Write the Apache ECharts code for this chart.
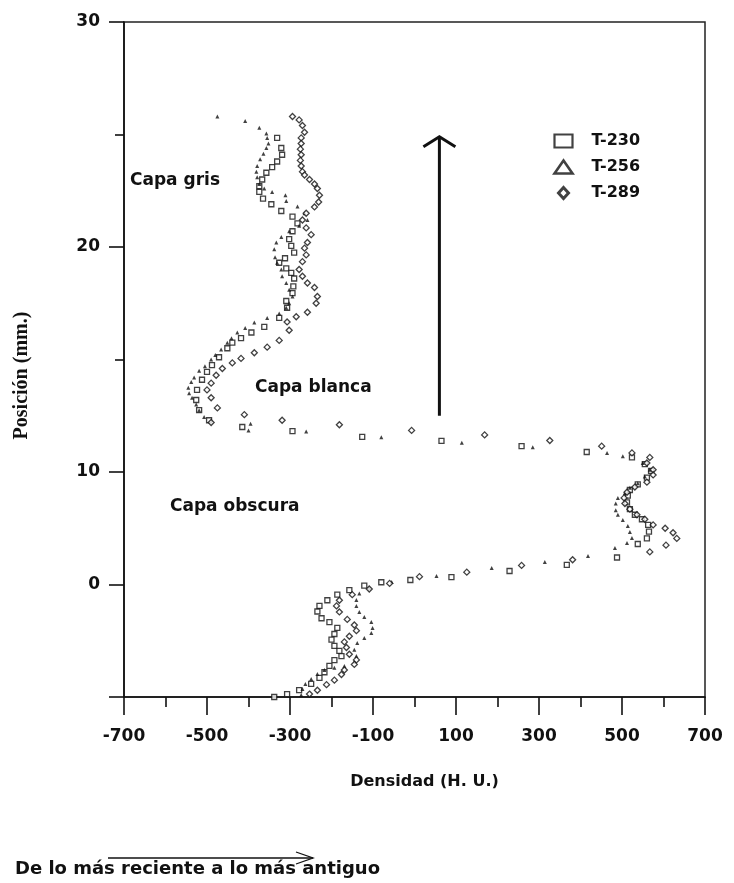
<!DOCTYPE html>
<html>
<head>
<meta charset="utf-8">
<script src="https://cdn.jsdelivr.net/npm/echarts@6/dist/echarts.min.js"></script>
<style>
  html, body { margin: 0; padding: 0; background: #fff; }
  #chart { width: 734px; height: 883px; }
</style>
</head>
<body>
<div id="chart"></div>
<script>
// Density (H.U.) vs position (mm)
const seriesNames = ['T-230', 'T-256', 'T-289'];

const t230 = [
  [-331, 24.85], [-321, 24.4], [-319, 24.1], [-331, 23.8], [-343, 23.55], [-357, 23.3], [-367, 23.0],
  [-374, 22.7], [-374, 22.45], [-365, 22.15], [-345, 21.9], [-321, 21.6], [-294, 21.35], [-282, 21.05],
  [-294, 20.7], [-302, 20.35], [-297, 20.05], [-290, 19.75], [-312, 19.5], [-326, 19.3], [-309, 19.05],
  [-297, 18.85], [-290, 18.6], [-292, 18.25], [-294, 17.95], [-309, 17.6], [-307, 17.3], [-326, 16.85],
  [-362, 16.45], [-393, 16.2], [-418, 15.95], [-439, 15.75], [-451, 15.5], [-471, 15.1], [-488, 14.75],
  [-500, 14.45], [-512, 14.1], [-524, 13.65], [-526, 13.2], [-519, 12.75], [-495, 12.3], [-415, 12.0],
  [-294, 11.82], [-126, 11.56], [65, 11.38], [258, 11.15], [415, 10.89], [524, 10.65], [555, 10.35],
  [570, 10.05], [560, 9.75], [538, 9.45], [519, 9.2], [514, 8.95], [512, 8.65], [519, 8.35], [531, 8.1],
  [548, 7.9], [563, 7.65], [565, 7.35], [560, 7.05], [538, 6.8], [488, 6.2], [367, 5.87], [229, 5.6],
  [89, 5.33], [-10, 5.2], [-80, 5.1], [-121, 4.95], [-157, 4.75], [-186, 4.55], [-210, 4.3], [-229, 4.05],
  [-234, 3.8], [-224, 3.5], [-205, 3.33], [-186, 3.07], [-193, 2.8], [-200, 2.55], [-193, 2.27],
  [-181, 2.05], [-176, 1.82], [-193, 1.64], [-205, 1.38], [-217, 1.1], [-229, 0.85], [-249, 0.58],
  [-278, 0.31], [-307, 0.13], [-338, 0.0]
];

const t256 = [
  [-475, 25.8], [-408, 25.6], [-374, 25.3], [-357, 25.05], [-355, 24.85], [-352, 24.6], [-357, 24.4],
  [-364, 24.15], [-372, 23.9], [-379, 23.6], [-381, 23.35], [-379, 23.1], [-374, 22.8], [-362, 22.6],
  [-343, 22.45], [-311, 22.3], [-309, 22.05], [-282, 21.8], [-265, 21.5], [-258, 21.2], [-278, 20.95],
  [-302, 20.7], [-321, 20.45], [-333, 20.2], [-338, 19.9], [-336, 19.55], [-331, 19.3], [-321, 19.0],
  [-319, 18.7], [-309, 18.4], [-302, 18.1], [-294, 17.8], [-302, 17.5], [-309, 17.3], [-326, 17.05],
  [-355, 16.85], [-386, 16.65], [-408, 16.4], [-427, 16.2], [-441, 15.95], [-451, 15.75], [-466, 15.45],
  [-480, 15.2], [-490, 15.0], [-505, 14.7], [-519, 14.5], [-531, 14.2], [-538, 14.0], [-545, 13.75],
  [-543, 13.5], [-536, 13.3], [-526, 13.0], [-519, 12.75], [-507, 12.45], [-395, 12.15], [-400, 11.85],
  [-261, 11.8], [-80, 11.55], [114, 11.3], [285, 11.1], [464, 10.85], [502, 10.7], [550, 10.4],
  [567, 10.1], [555, 9.8], [538, 9.5], [519, 9.3], [507, 9.07], [490, 8.84], [485, 8.6], [485, 8.3],
  [490, 8.1], [502, 7.87], [514, 7.6], [519, 7.33], [524, 7.07], [512, 6.84], [483, 6.62], [418, 6.27],
  [314, 6.0], [186, 5.73], [53, 5.38], [-55, 5.11], [-109, 4.85], [-133, 4.6], [-140, 4.31], [-140, 4.05],
  [-133, 3.78], [-121, 3.56], [-104, 3.33], [-101, 3.07], [-104, 2.84], [-121, 2.62], [-138, 2.4],
  [-145, 2.1], [-140, 1.82], [-145, 1.56], [-169, 1.38], [-193, 1.3], [-217, 1.2], [-234, 1.02],
  [-249, 0.8], [-263, 0.58], [-270, 0.36], [-273, 0.09]
];

const t289 = [
  [-294, 25.8], [-278, 25.65], [-270, 25.4], [-265, 25.1], [-273, 24.85], [-273, 24.6], [-275, 24.35],
  [-273, 24.1], [-275, 23.85], [-273, 23.6], [-270, 23.35], [-265, 23.2], [-253, 23.0], [-241, 22.8],
  [-234, 22.6], [-229, 22.3], [-231, 22.0], [-241, 21.78], [-261, 21.5], [-270, 21.2], [-261, 20.85],
  [-249, 20.55], [-258, 20.2], [-265, 19.95], [-261, 19.65], [-270, 19.35], [-278, 19.0], [-270, 18.7],
  [-258, 18.4], [-241, 18.2], [-234, 17.8], [-237, 17.5], [-258, 17.1], [-285, 16.9], [-307, 16.67],
  [-302, 16.3], [-326, 15.85], [-355, 15.55], [-386, 15.3], [-418, 15.05], [-439, 14.85], [-463, 14.6],
  [-478, 14.3], [-490, 13.95], [-500, 13.65], [-490, 13.3], [-475, 12.85], [-490, 12.2], [-410, 12.55],
  [-319, 12.3], [-181, 12.1], [-7, 11.85], [169, 11.65], [326, 11.4], [451, 11.15], [524, 10.85],
  [567, 10.65], [560, 10.4], [575, 10.1], [575, 9.87], [560, 9.55], [531, 9.33], [512, 9.1], [505, 8.85],
  [507, 8.6], [519, 8.35], [536, 8.1], [555, 7.9], [575, 7.65], [604, 7.5], [623, 7.3], [632, 7.05],
  [606, 6.75], [567, 6.45], [381, 6.1], [258, 5.85], [126, 5.55], [12, 5.35], [-60, 5.05], [-109, 4.8],
  [-150, 4.55], [-181, 4.3], [-188, 4.05], [-181, 3.78], [-162, 3.45], [-145, 3.2], [-140, 2.95],
  [-157, 2.7], [-169, 2.45], [-164, 2.2], [-157, 1.9], [-140, 1.65], [-145, 1.45], [-169, 1.2],
  [-176, 1.0], [-193, 0.75], [-212, 0.55], [-234, 0.3], [-253, 0.13]
];

// axis ticks and labels (the printed "0" sits on the 5 mm tick)
const xMajorTicks = [-700, -500, -300, -100, 100, 300, 500, 700];
const xMinorTicks = [-600, -400, -200, 0, 200, 400, 600];
const yMajorTicks = [0, 5, 10, 20, 30];
const yMinorTicks = [15, 25];
const yLabelValues = [5, 10, 20, 30];
const yLabelTexts = ['0', '10', '20', '30'];

// growth arrow inside the plot, in data units
const arrowX = 60;
const arrowFrom = 12.5;
const arrowTo = 24.9;

const ink = '#111';
const boldFont = 'DejaVu Sans';

const chart = echarts.init(document.getElementById('chart'));

const option = {
  backgroundColor: '#fff',
  animation: false,
  grid: {
    left: 124, top: 22, width: 581, height: 675,
    show: true, borderColor: '#222', borderWidth: 1.5
  },
  legend: {
    orient: 'vertical',
    left: 548,
    top: 128,
    itemWidth: 18,
    itemHeight: 13,
    itemGap: 10,
    textStyle: { fontFamily: boldFont, fontWeight: 'bold', fontSize: 16, color: ink, padding: [0, 0, 0, 14] },
    data: [
      { name: 'T-230', icon: 'rect', itemStyle: { color: '#fff', borderColor: ink, borderWidth: 2.2 } },
      { name: 'T-256', icon: 'triangle', itemStyle: { color: '#fff', borderColor: ink, borderWidth: 2.6 } },
      { name: 'T-289', icon: 'path://M0,0M18,13M9,1L14,6.5L9,12L4,6.5Z', itemStyle: { color: '#fff', borderColor: ink, borderWidth: 3 } }
    ]
  },
  xAxis: [
    {
      type: 'value', min: -700, max: 700, interval: 100, position: 'bottom',
      name: 'Densidad (H. U.)', nameLocation: 'middle', nameGap: 77,
      nameTextStyle: { fontFamily: boldFont, fontWeight: 'bold', fontSize: 16, color: ink, padding: [0, 0, 0, 20] },
      axisLine: { show: true, onZero: false, lineStyle: { color: ink, width: 1.6 } },
      axisTick: { show: true, customValues: xMajorTicks, length: 18, lineStyle: { color: ink, width: 1.6 } },
      axisLabel: {
        customValues: xMajorTicks, margin: 31,
        fontFamily: boldFont, fontWeight: 'bold', fontSize: 17, color: ink
      },
      splitLine: { show: false }
    },
    {
      type: 'value', min: -700, max: 700, interval: 100, position: 'bottom',
      axisLine: { show: false, onZero: false },
      axisTick: { show: true, customValues: xMinorTicks, length: 10, lineStyle: { color: ink, width: 1.6 } },
      axisLabel: { show: false },
      splitLine: { show: false }
    }
  ],
  yAxis: [
    {
      type: 'value', min: 0, max: 30, interval: 5, position: 'left',
      name: 'Posición (mm.)', nameLocation: 'middle', nameGap: 92,
      nameTextStyle: { fontFamily: 'Liberation Serif', fontWeight: 'bold', fontSize: 20, color: ink, padding: [0, 32, 0, 0] },
      axisLine: { show: true, onZero: false, lineStyle: { color: ink, width: 1.6 } },
      axisTick: { show: true, customValues: yMajorTicks, length: 15, lineStyle: { color: ink, width: 1.6 } },
      axisLabel: {
        customValues: yLabelValues, margin: 24,
        formatter: v => yLabelTexts[yLabelValues.indexOf(v)],
        fontFamily: boldFont, fontWeight: 'bold', fontSize: 17, color: ink
      },
      splitLine: { show: false }
    },
    {
      type: 'value', min: 0, max: 30, interval: 5, position: 'left',
      axisLine: { show: false, onZero: false },
      axisTick: { show: true, customValues: yMinorTicks, length: 9, lineStyle: { color: ink, width: 1.6 } },
      axisLabel: { show: false },
      splitLine: { show: false }
    }
  ],
  series: [
    {
      name: seriesNames[0], type: 'scatter', data: t230,
      symbol: 'rect', symbolSize: 5,
      itemStyle: { color: '#fff', borderColor: ink, borderWidth: 1.3 }
    },
    {
      name: seriesNames[1], type: 'scatter', data: t256,
      symbol: 'triangle', symbolSize: 4,
      itemStyle: { color: ink }
    },
    {
      name: seriesNames[2], type: 'scatter', data: t289,
      symbol: 'diamond', symbolSize: 6,
      itemStyle: { color: '#fff', borderColor: ink, borderWidth: 1.3 }
    }
  ]
};

chart.setOption(option);

// annotations: arrow in data space, labels in page space
const base = chart.convertToPixel({ gridIndex: 0 }, [arrowX, arrowFrom]);
const tip = chart.convertToPixel({ gridIndex: 0 }, [arrowX, arrowTo]);
const labelFont = 'bold 17px "DejaVu Sans"';

chart.setOption({
  graphic: [
    { type: 'line', shape: { x1: base[0], y1: base[1], x2: tip[0], y2: tip[1] }, style: { stroke: ink, lineWidth: 3 } },
    { type: 'polyline', shape: { points: [[tip[0] - 16, tip[1] + 10], [tip[0], tip[1]], [tip[0] + 16, tip[1] + 10]] }, style: { stroke: ink, lineWidth: 3, fill: null } },
    { type: 'text', x: 130, y: 181, style: { text: 'Capa gris', font: labelFont, fill: ink, verticalAlign: 'middle' } },
    { type: 'text', x: 255, y: 388, style: { text: 'Capa blanca', font: labelFont, fill: ink, verticalAlign: 'middle' } },
    { type: 'text', x: 170, y: 507, style: { text: 'Capa obscura', font: labelFont, fill: ink, verticalAlign: 'middle' } },
    { type: 'line', shape: { x1: 108, y1: 858, x2: 313, y2: 858 }, style: { stroke: ink, lineWidth: 1.3 } },
    { type: 'polyline', shape: { points: [[296, 852], [313, 858], [296, 864]] }, style: { stroke: ink, lineWidth: 1.3, fill: null } },
    { type: 'text', x: 15, y: 869, style: { text: 'De lo más reciente a lo más antiguo', font: 'bold 18px "DejaVu Sans"', fill: ink, verticalAlign: 'middle' } }
  ]
});
</script>
</body>
</html>
